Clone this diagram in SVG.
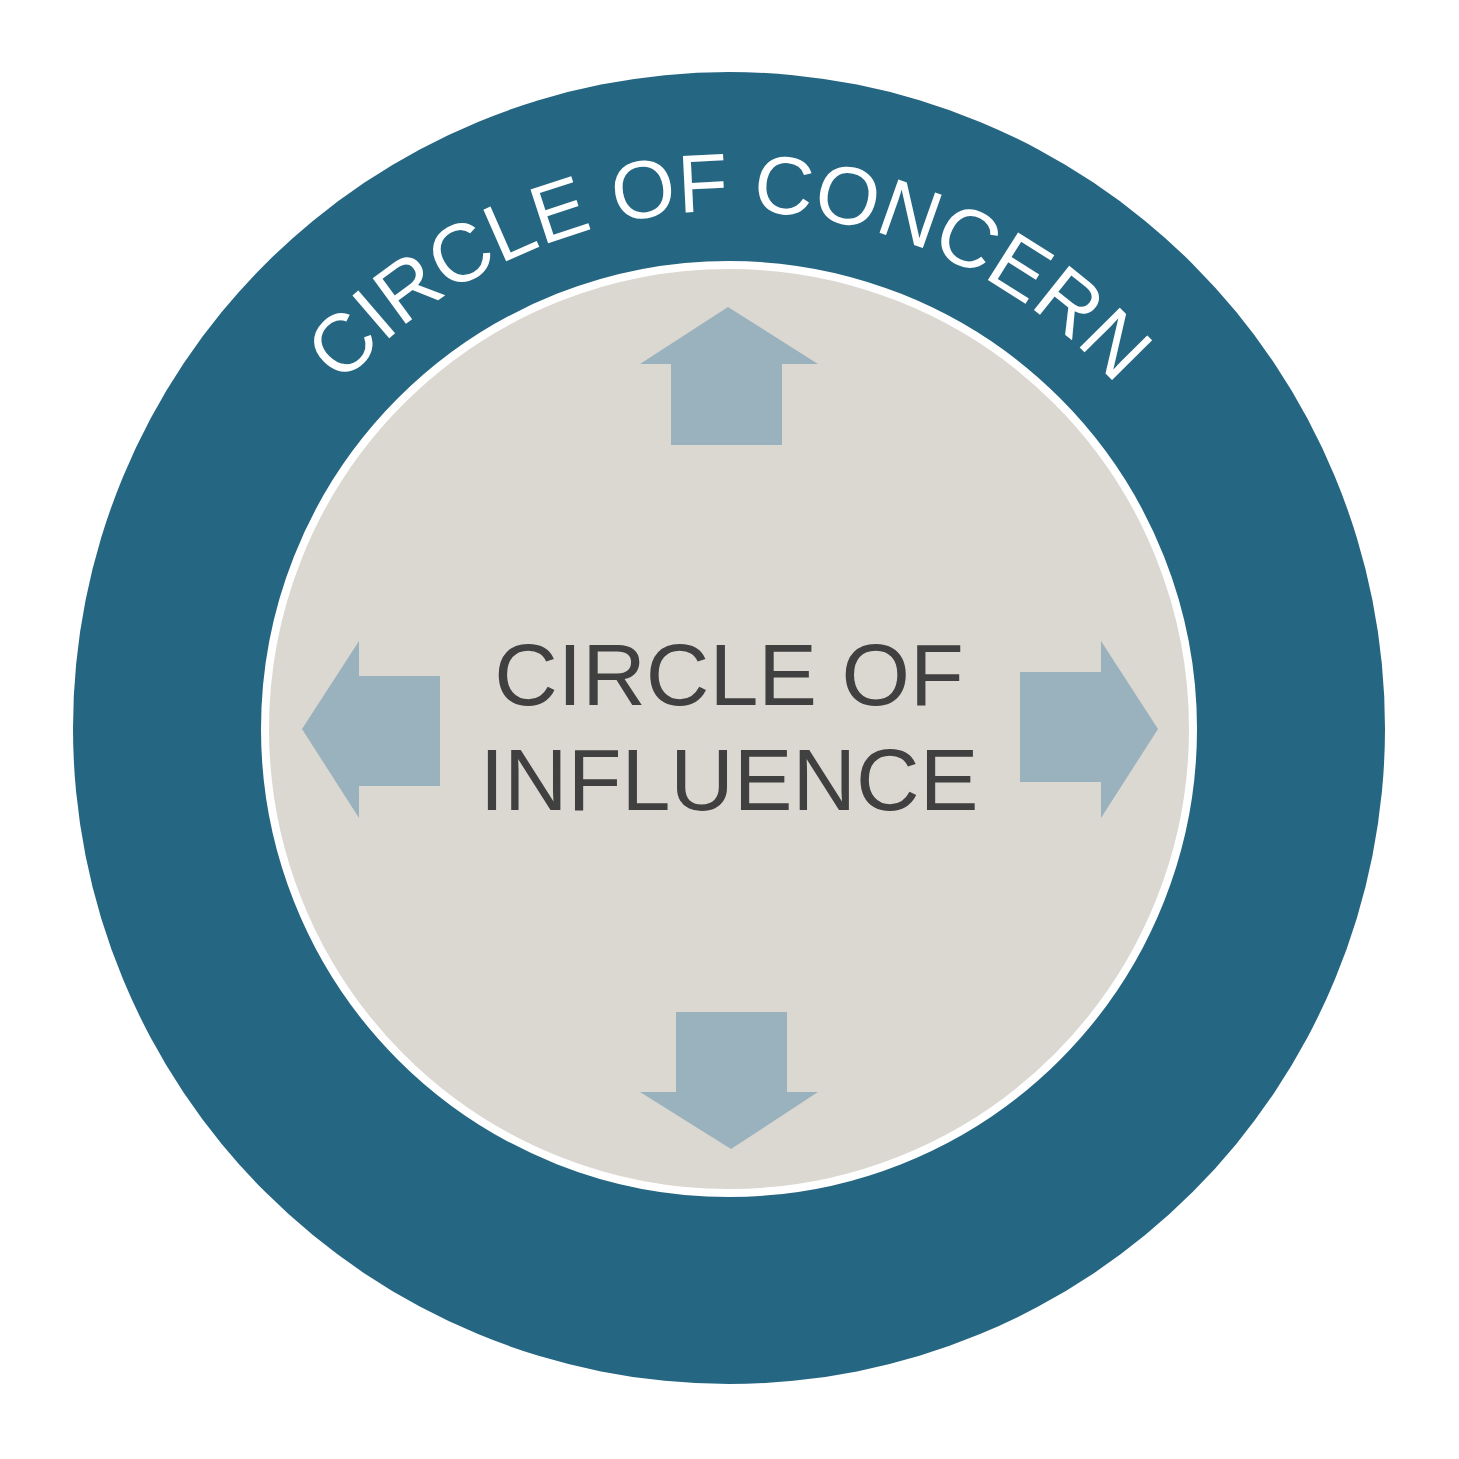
<svg xmlns="http://www.w3.org/2000/svg" xmlns:xlink="http://www.w3.org/1999/xlink" width="1459" height="1459" viewBox="0 0 1459 1459">
<style>
.arrow{fill:#9ab1be}
.lbl{font-family:"Liberation Sans",Arial,sans-serif}
</style>
<defs><path id="arc" d="M 212,728 A 517 517 0 0 1 1246,728"/></defs>
<rect width="1459" height="1459" fill="#fff"/>
<g id="concern">
<circle cx="729" cy="728" r="656" fill="#256682"/>
<text class="lbl" font-size="82" fill="#fff" text-anchor="middle"><textPath xlink:href="#arc" startOffset="50%">CIRCLE OF CONCERN</textPath></text>
</g>
<g id="influence">
<circle cx="729" cy="729" r="464" fill="#dbd8d2" stroke="#fff" stroke-width="8"/>
<text class="lbl" font-size="88" fill="#404040" text-anchor="middle"><tspan x="729" y="705">CIRCLE OF</tspan><tspan x="729" y="810">INFLUENCE</tspan></text>
</g>
<g id="arrows">
<polygon class="arrow" points="728,307 818,364 782,364 782,445 671,445 671,364 640,364"/>
<polygon class="arrow" points="731,1149 818,1092 787,1092 787,1012 676,1012 676,1092 640,1092"/>
<polygon class="arrow" points="302,729 359,641 359,676 440,676 440,786 359,786 359,818"/>
<polygon class="arrow" points="1158,729 1101,641 1101,672 1020,672 1020,782 1101,782 1101,818"/>
</g>
</svg>
